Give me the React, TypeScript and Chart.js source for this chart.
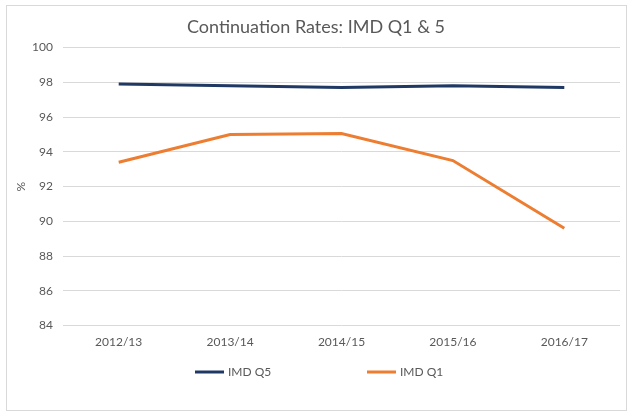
import React, { useEffect, useRef } from "react";
import { Chart, registerables } from "chart.js";

Chart.register(...registerables);

const categories = ["2012/13", "2013/14", "2014/15", "2015/16", "2016/17"];
const q5Values = [97.9, 97.8, 97.7, 97.8, 97.7];
const q1Values = [93.4, 95.0, 95.05, 93.5, 89.6];
const seriesNames = ["IMD Q5", "IMD Q1"];
const titleText = "Continuation Rates: IMD Q1 & 5";
const yTitle = "%";

const FONT = "Lato, 'Noto Sans', sans-serif";
const TEXT = "#595959";

const legendPlugin = {
  id: "customLegend",
  afterDraw(chart: any) {
    const ctx = chart.ctx;
    const y = 372;
    const starts = [195, 367];
    ctx.save();
    chart.data.datasets.forEach((ds: any, i: number) => {
      const x = starts[i];
      ctx.strokeStyle = ds.borderColor;
      ctx.lineWidth = 3;
      ctx.beginPath();
      ctx.moveTo(x, y);
      ctx.lineTo(x + 29, y);
      ctx.stroke();
      ctx.fillStyle = TEXT;
      ctx.font = `12px ${FONT}`;
      ctx.textBaseline = "middle";
      ctx.textAlign = "left";
      ctx.fillText(ds.label, x + 33, y);
    });
    ctx.restore();
  },
};

export default function App() {
  const ref = useRef<HTMLCanvasElement | null>(null);

  useEffect(() => {
    if (!ref.current) return;
    const chart = new Chart(ref.current, {
      type: "line",
      data: {
        labels: categories,
        datasets: [
          {
            label: seriesNames[0],
            data: q5Values,
            borderColor: "#203864",
            backgroundColor: "#203864",
            borderWidth: 3,
            pointRadius: 0,
            tension: 0,
          },
          {
            label: seriesNames[1],
            data: q1Values,
            borderColor: "#ed7d31",
            backgroundColor: "#ed7d31",
            borderWidth: 3,
            pointRadius: 0,
            tension: 0,
          },
        ],
      },
      plugins: [legendPlugin],
      options: {
        responsive: false,
        animation: false,
        layout: { padding: { left: 12, right: 8, top: 6, bottom: 54 } },
        plugins: {
          title: {
            display: true,
            text: titleText,
            color: TEXT,
            font: { family: FONT, size: 18, weight: "normal" },
            padding: { top: 10, bottom: 10 },
          },
          legend: { display: false },
          tooltip: { enabled: false },
        },
        scales: {
          x: {
            offset: true,
            grid: { display: false, drawTicks: false },
            border: { display: false },
            ticks: {
              color: TEXT,
              padding: 9,
              font: { family: FONT, size: 12 },
              maxRotation: 0,
            },
          },
          y: {
            min: 84,
            max: 100,
            grid: { color: "#d9d9d9", drawTicks: false },
            border: { display: false },
            ticks: {
              stepSize: 2,
              color: TEXT,
              padding: 10,
              font: { family: FONT, size: 12 },
            },
            title: {
              display: true,
              text: yTitle,
              color: TEXT,
              font: { family: FONT, size: 12 },
              padding: { top: 2, bottom: 4 },
            },
            afterFit: (s: any) => {
              s.width = 51;
            },
          },
        },
      },
    });
    return () => chart.destroy();
  }, []);

  return (
    <div style={{ position: "absolute", left: 0, top: 0, width: 628, height: 412, background: "#fff" }}>
      <canvas ref={ref} width={628} height={412} style={{ position: "absolute", left: 0, top: 0 }} />
      <div
        style={{
          position: "absolute",
          left: 6,
          top: 5,
          width: 619,
          height: 404,
          border: "1px solid #d9d9d9",
          pointerEvents: "none",
        }}
      />
    </div>
  );
}
